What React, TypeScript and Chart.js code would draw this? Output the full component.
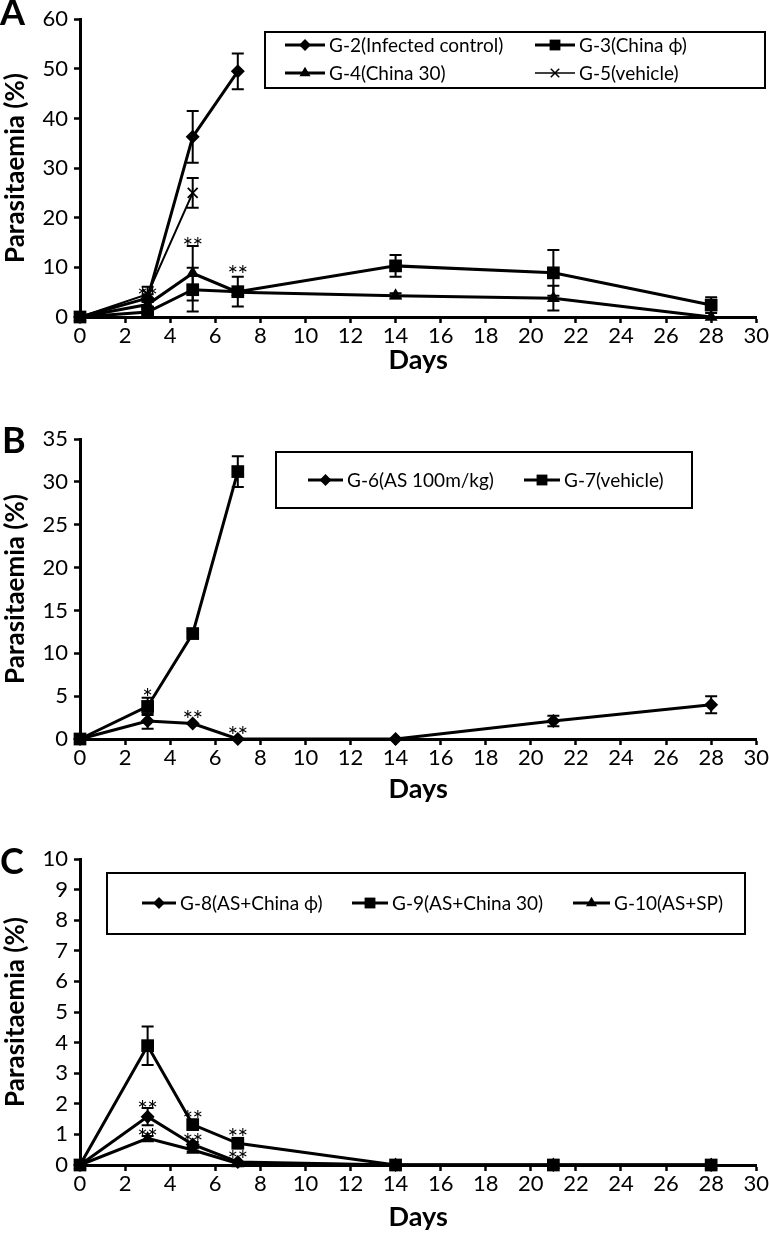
import React, { useEffect, useRef } from 'react';
import { Chart, registerables } from 'chart.js';

Chart.register(...registerables);

// ---------- Data ----------
const X_MIN = 0;
const X_MAX = 30;
const X_STEP = 2;

// Panel A
const A_G2_DAYS = [0, 3, 5, 7];
const A_G2 = [0, 3.8, 36.3, 49.5];
const A_G2_ERR = [0, 0.8, 5.2, 3.6];
const A_G3_DAYS = [0, 3, 5, 7, 14, 21, 28];
const A_G3 = [0, 1.0, 5.5, 5.1, 10.3, 8.9, 2.4];
const A_G3_ERR = [0, 0.5, 4.4, 3.0, 2.2, 4.6, 1.6];
const A_G4_DAYS = [0, 3, 5, 7, 14, 21, 28];
const A_G4 = [0, 2.5, 8.8, 5.0, 4.3, 3.8, 0];
const A_G4_ERR = [0, 0.8, 5.5, 0, 0.5, 2.5, 0];
const A_G5_DAYS = [0, 3, 5];
const A_G5 = [0, 4.6, 25.0];
const A_G5_ERR = [0, 1.5, 3.0];
const A_STAR_DAYS = [3, 5, 7];
const A_STAR_Y = [5.1, 15.2, 9.4];
const A_STAR_TEXT = ['**', '**', '**'];

// Panel B
const B_G6_DAYS = [0, 3, 5, 7, 14, 21, 28];
const B_G6 = [0, 2.1, 1.8, 0, 0, 2.1, 4.0];
const B_G6_ERR = [0, 0.9, 0, 0, 0, 0.6, 1.0];
const B_G7_DAYS = [0, 3, 5, 7];
const B_G7 = [0, 3.8, 12.3, 31.2];
const B_G7_ERR = [0, 1.0, 0, 1.8];
const B_STAR_DAYS = [3, 5, 7];
const B_STAR_Y = [5.4, 2.8, 0.9];
const B_STAR_TEXT = ['*', '**', '**'];

// Panel C
const C_DAYS = [0, 3, 5, 7, 14, 21, 28];
const C_G8 = [0, 1.58, 0.67, 0.1, 0, 0, 0];
const C_G8_ERR = [0, 0.28, 0.08, 0, 0, 0, 0];
const C_G9 = [0, 3.9, 1.32, 0.71, 0, 0, 0];
const C_G9_ERR = [0, 0.63, 0, 0, 0, 0, 0];
const C_G10 = [0, 0.87, 0.49, 0.05, 0, 0, 0];
const C_G10_ERR = [0, 0.08, 0.05, 0, 0, 0, 0];
const C_STAR_DAYS = [3, 3, 5, 5, 7, 7];
const C_STAR_Y = [1.96, 1.04, 1.64, 0.87, 1.06, 0.33];
const C_STAR_TEXT = ['**', '**', '**', '**', '**', '**'];

// ---------- Types ----------
type Marker = 'rectRot' | 'rect' | 'triangle' | 'crossRot';
type Series = { label: string; days: number[]; values: number[]; err: number[]; marker: Marker };
type LegendItemPos = { x1: number; x2: number; y: number };
type PanelCfg = {
  letter: string;
  letterX: number;
  letterY: number;
  top: number;
  height: number;
  padTop: number;
  xAxisH: number;
  yMax: number;
  yStep: number;
  series: Series[];
  starDays: number[];
  starY: number[];
  starText: string[];
  legendBox: { x: number; y: number; w: number; h: number };
  legendPos: LegendItemPos[];
};

const FONT = 'Lato, "Open Sans", sans-serif';

const RADIUS: Record<Marker, number> = { rectRot: 7, rect: 9, triangle: 7.5, crossRot: 7 };

const PANELS: PanelCfg[] = [
  {
    letter: 'A', letterX: 0, letterY: 25, top: 0, height: 376, padTop: 11, xAxisH: 59,
    yMax: 60, yStep: 10,
    series: [
      { label: 'G-2(Infected control)', days: A_G2_DAYS, values: A_G2, err: A_G2_ERR, marker: 'rectRot' },
      { label: 'G-3(China \u03D5)', days: A_G3_DAYS, values: A_G3, err: A_G3_ERR, marker: 'rect' },
      { label: 'G-4(China 30)', days: A_G4_DAYS, values: A_G4, err: A_G4_ERR, marker: 'triangle' },
      { label: 'G-5(vehicle)', days: A_G5_DAYS, values: A_G5, err: A_G5_ERR, marker: 'crossRot' },
    ],
    starDays: A_STAR_DAYS, starY: A_STAR_Y, starText: A_STAR_TEXT,
    legendBox: { x: 265, y: 32, w: 500, h: 56 },
    legendPos: [
      { x1: 285, x2: 325, y: 45 },
      { x1: 535, x2: 575, y: 45 },
      { x1: 285, x2: 325, y: 73 },
      { x1: 535, x2: 575, y: 73 },
    ],
  },
  {
    letter: 'B', letterX: 2, letterY: 53, top: 400, height: 405, padTop: 39, xAxisH: 66,
    yMax: 35, yStep: 5,
    series: [
      { label: 'G-6(AS 100m/kg)', days: B_G6_DAYS, values: B_G6, err: B_G6_ERR, marker: 'rectRot' },
      { label: 'G-7(vehicle)', days: B_G7_DAYS, values: B_G7, err: B_G7_ERR, marker: 'rect' },
    ],
    starDays: B_STAR_DAYS, starY: B_STAR_Y, starText: B_STAR_TEXT,
    legendBox: { x: 276, y: 52, w: 416, h: 56 },
    legendPos: [
      { x1: 308, x2: 343, y: 80 },
      { x1: 524, x2: 560, y: 80 },
    ],
  },
  {
    letter: 'C', letterX: 0, letterY: 64, top: 810, height: 423, padTop: 49, xAxisH: 68,
    yMax: 10, yStep: 1,
    series: [
      { label: 'G-8(AS+China \u03D5)', days: C_DAYS, values: C_G8, err: C_G8_ERR, marker: 'rectRot' },
      { label: 'G-9(AS+China 30)', days: C_DAYS, values: C_G9, err: C_G9_ERR, marker: 'rect' },
      { label: 'G-10(AS+SP)', days: C_DAYS, values: C_G10, err: C_G10_ERR, marker: 'triangle' },
    ],
    starDays: C_STAR_DAYS, starY: C_STAR_Y, starText: C_STAR_TEXT,
    legendBox: { x: 107, y: 63, w: 638, h: 61 },
    legendPos: [
      { x1: 142, x2: 176, y: 93 },
      { x1: 352, x2: 388, y: 93 },
      { x1: 573, x2: 610, y: 93 },
    ],
  },
];

function drawMarker(ctx: CanvasRenderingContext2D, m: Marker, x: number, y: number, r: number) {
  ctx.save();
  ctx.fillStyle = '#000';
  ctx.strokeStyle = '#000';
  ctx.beginPath();
  if (m === 'rectRot') {
    ctx.moveTo(x, y - r); ctx.lineTo(x + r, y); ctx.lineTo(x, y + r); ctx.lineTo(x - r, y); ctx.closePath(); ctx.fill();
  } else if (m === 'rect') {
    const s = r * Math.SQRT1_2;
    ctx.rect(x - s, y - s, 2 * s, 2 * s); ctx.fill();
  } else if (m === 'triangle') {
    ctx.moveTo(x, y - r); ctx.lineTo(x + r * 0.87, y + r * 0.5); ctx.lineTo(x - r * 0.87, y + r * 0.5); ctx.closePath(); ctx.fill();
  } else {
    const s = r * Math.SQRT1_2;
    ctx.lineWidth = 1.5;
    ctx.moveTo(x - s, y - s); ctx.lineTo(x + s, y + s); ctx.moveTo(x + s, y - s); ctx.lineTo(x - s, y + s); ctx.stroke();
  }
  ctx.restore();
}

function makeDecorPlugin(cfg: PanelCfg) {
  return {
    id: 'decor' + cfg.letter,
    afterDatasetsDraw(chart: any) {
      const ctx: CanvasRenderingContext2D = chart.ctx;
      const xs = chart.scales.x;
      const ys = chart.scales.y;
      ctx.save();
      // error bars
      ctx.strokeStyle = '#000';
      ctx.lineWidth = 2;
      cfg.series.forEach((s) => {
        s.days.forEach((d, i) => {
          const e = s.err[i];
          if (!e) return;
          const px = xs.getPixelForValue(d);
          const pTop = ys.getPixelForValue(s.values[i] + e);
          const pBot = ys.getPixelForValue(Math.max(0, s.values[i] - e));
          ctx.beginPath();
          ctx.moveTo(px, pTop); ctx.lineTo(px, pBot);
          ctx.moveTo(px - 6, pTop); ctx.lineTo(px + 6, pTop);
          ctx.moveTo(px - 6, pBot); ctx.lineTo(px + 6, pBot);
          ctx.stroke();
        });
      });
      // stars (characters spaced apart)
      ctx.fillStyle = '#000';
      ctx.font = `25px ${FONT}`;
      ctx.textAlign = 'center';
      ctx.textBaseline = 'middle';
      const gap = 10;
      cfg.starDays.forEach((d, i) => {
        const chars = cfg.starText[i].split('');
        const cx = xs.getPixelForValue(d);
        const cy = ys.getPixelForValue(cfg.starY[i]) + 6;
        chars.forEach((c, k) => {
          ctx.fillText(c, cx + (k - (chars.length - 1) / 2) * gap, cy);
        });
      });
      // panel letter
      ctx.font = `bold 36px ${FONT}`;
      ctx.textAlign = 'left';
      ctx.textBaseline = 'alphabetic';
      ctx.fillText(cfg.letter, cfg.letterX, cfg.letterY);
      // legend
      const b = cfg.legendBox;
      ctx.fillStyle = '#fff';
      ctx.fillRect(b.x, b.y, b.w, b.h);
      ctx.strokeStyle = '#000';
      ctx.lineWidth = 2;
      ctx.strokeRect(b.x, b.y, b.w, b.h);
      ctx.font = `19px ${FONT}`;
      ctx.textBaseline = 'middle';
      cfg.series.forEach((s, i) => {
        const p = cfg.legendPos[i];
        ctx.strokeStyle = '#000';
        ctx.lineWidth = s.marker === 'crossRot' ? 1.5 : 3;
        ctx.beginPath(); ctx.moveTo(p.x1, p.y); ctx.lineTo(p.x2, p.y); ctx.stroke();
        drawMarker(ctx, s.marker, (p.x1 + p.x2) / 2, p.y, RADIUS[s.marker] * 0.85);
        ctx.fillStyle = '#000';
        ctx.fillText(s.label, p.x2 + 4, p.y + 1);
      });
      ctx.restore();
    },
  };
}

function buildConfig(cfg: PanelCfg): any {
  const axisCommon = {
    grid: { drawOnChartArea: false, drawTicks: true, tickLength: 6, tickWidth: 2.5, tickColor: '#000' },
    border: { color: '#000', width: 3 },
  };
  return {
    type: 'line',
    data: {
      datasets: cfg.series.map((s) => ({
        label: s.label,
        data: s.days.map((d, i) => ({ x: d, y: s.values[i] })),
        borderColor: '#000',
        backgroundColor: '#000',
        borderWidth: s.marker === 'crossRot' ? 2 : 3,
        pointStyle: s.marker,
        pointRadius: RADIUS[s.marker],
        pointBorderWidth: s.marker === 'crossRot' ? 1.8 : 0,
        pointBackgroundColor: '#000',
        pointBorderColor: '#000',
        tension: 0,
        fill: false,
        clip: false,
      })),
    },
    options: {
      responsive: false,
      maintainAspectRatio: false,
      animation: false,
      layout: { padding: { top: cfg.padTop, right: 10, left: 0, bottom: 0 } },
      plugins: { legend: { display: false }, tooltip: { enabled: false } },
      scales: {
        x: {
          type: 'linear',
          min: X_MIN,
          max: X_MAX,
          ...axisCommon,
          ticks: { stepSize: X_STEP, color: '#000', font: { family: FONT, size: 22 }, padding: 0, maxRotation: 0, autoSkip: false },
          title: { display: true, text: 'Days', color: '#000', font: { family: FONT, size: 27, weight: 'bold' }, padding: { top: 0, bottom: 0 } },
          afterFit: (s: any) => { s.height = cfg.xAxisH; },
        },
        y: {
          type: 'linear',
          min: 0,
          max: cfg.yMax,
          ...axisCommon,
          ticks: { stepSize: cfg.yStep, color: '#000', font: { family: FONT, size: 22 }, padding: 6 },
          title: { display: true, text: 'Parasitaemia (%)', color: '#000', font: { family: FONT, size: 26, weight: 'bold' }, padding: { top: 0, bottom: 0 } },
          afterFit: (s: any) => { s.width = 80; },
        },
      },
    },
    plugins: [makeDecorPlugin(cfg)],
  };
}

function Panel({ cfg }: { cfg: PanelCfg }) {
  const ref = useRef<HTMLCanvasElement | null>(null);
  useEffect(() => {
    if (!ref.current) return;
    const chart = new Chart(ref.current, buildConfig(cfg));
    return () => chart.destroy();
  }, [cfg]);
  return (
    <canvas
      ref={ref}
      width={769}
      height={cfg.height}
      style={{ position: 'absolute', left: 0, top: cfg.top, width: 769, height: cfg.height }}
    />
  );
}

export default function App() {
  return (
    <div style={{ position: 'absolute', left: 0, top: 0, width: 769, height: 1233, background: '#fff' }}>
      {PANELS.map((p) => (
        <Panel key={p.letter} cfg={p} />
      ))}
    </div>
  );
}
